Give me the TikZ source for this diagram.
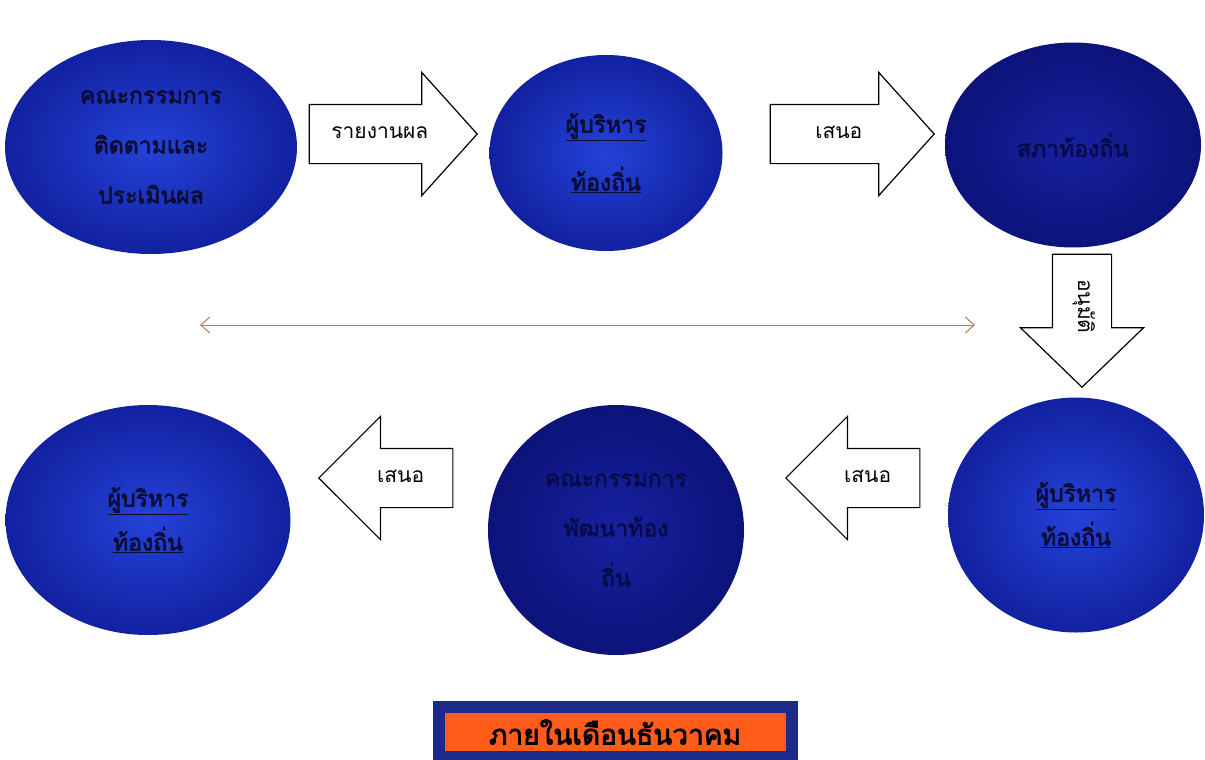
\documentclass[tikz,border=0pt]{standalone}
\usepackage{fontspec}
\newfontfamily\thaifont[Script=Thai]{Loma}
\newfontfamily\thaiheavy[Script=Thai,FakeBold=2.5]{Loma}
\usetikzlibrary{shapes.geometric,shapes.arrows,arrows.meta}
\definecolor{discTxt}{HTML}{0C0C34}
\definecolor{discHi}{HTML}{2442D8}
\definecolor{discLo}{HTML}{1221A0}
\definecolor{navyHi}{HTML}{1721A0}
\definecolor{navyLo}{HTML}{0C137A}
\definecolor{lineClr}{HTML}{C4784A}
\definecolor{boxRim}{HTML}{1C2A8C}
\definecolor{boxFill}{HTML}{FF5B1A}

\begin{document}
\begin{tikzpicture}[x=1pt,y=-1pt,
  disc/.style={ellipse,inner sep=0pt,shading=radial,inner color=discHi,outer color=discLo,
    text=discTxt,align=center,font=\thaiheavy\fontsize{23}{50}\selectfont},
  darkdisc/.style={disc,inner color=navyHi,outer color=navyLo,text=navyLo!60!black},
  blockarrow/.style={single arrow,draw=black,line width=1.2pt,fill=white,inner xsep=0pt,
    text height=14pt,text depth=6pt,inner ysep=19pt,single arrow head extend=32pt,
    single arrow tip angle=96,font=\thaifont\fontsize{21}{22}\selectfont}]
  \useasboundingbox (0,0) rectangle (1205,760);
  \node[disc,minimum width=292,minimum height=214] (kPerf) at (151,147) {คณะกรรมการ\\ติดตามและ\\ประเมินผล};
  \node[disc,minimum width=233,minimum height=196] (exTop) at (606,153) {\underline{ผู้บริหาร}\\[8pt]\underline{ท้องถิ่น}};
  \node[darkdisc,minimum width=256,minimum height=205] (council) at (1073,145) {สภาท้องถิ่น};
  \node[disc,minimum width=256,minimum height=235] (exRight) at (1076,515) {\underline{ผู้บริหาร}\\[-6pt]\underline{ท้องถิ่น}};
  \node[darkdisc,minimum width=256,minimum height=250] (kDev) at (616,530) {คณะกรรมการ\\พัฒนาท้อง\\ถิ่น};
  \node[disc,minimum width=285,minimum height=230] (exLeft) at (148,520) {\underline{ผู้บริหาร}\\[-6pt]\underline{ท้องถิ่น}};
  \node[blockarrow,minimum height=168,anchor=tip] (report) at (478,134) {รายงานผล};
  \node[blockarrow,minimum height=164,anchor=tip] (propTop) at (935,134) {เสนอ};
  \node[blockarrow,minimum height=133,rotate=-90,single arrow tip angle=92,anchor=tip] (approve) at (1082,388) {อนุมัติ};
  \node[blockarrow,minimum height=134,shape border rotate=180,single arrow tip angle=90,anchor=tip] (propMid) at (785,478) {เสนอ};
  \node[blockarrow,minimum height=134,shape border rotate=180,single arrow tip angle=90,anchor=tip] (propLeft) at (318,478) {เสนอ};
  \coordinate (spanL) at (200,325);
  \coordinate (spanR) at (975,325);
  \draw[lineClr,line width=1pt,{Straight Barb[length=9pt,width=16pt]}-{Straight Barb[length=9pt,width=16pt]}] (spanL) -- (spanR);
  \node[draw=boxRim,line width=12pt,fill=boxFill,minimum width=353,minimum height=50,
    font=\thaiheavy\fontsize{28}{30}\selectfont] (deadline) at (615,732) {ภายในเดือนธันวาคม};
\end{tikzpicture}
\end{document}
